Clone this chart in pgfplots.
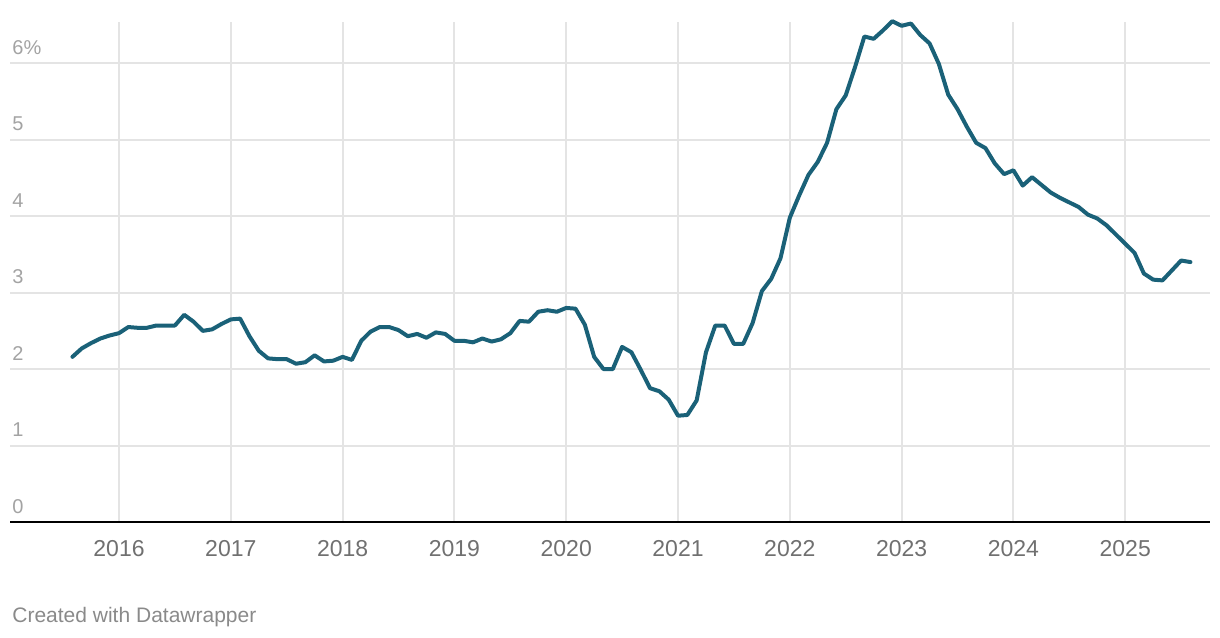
\documentclass[border=0pt]{standalone}
\usepackage{fontspec}
\setmainfont{Liberation Sans}
\usepackage{pgfplots}
\pgfplotsset{compat=1.18}
\definecolor{linec}{HTML}{1A6178}
\definecolor{gridc}{HTML}{E4E4E4}
\definecolor{ylab}{HTML}{A3A3A3}
\definecolor{xlab}{HTML}{707070}
\definecolor{cred}{HTML}{8A8A8A}
\begin{document}
\begin{tikzpicture}
\begin{axis}[
  scale only axis, width=600bp, height=250bp,
  xmin=-11.70, xmax=117.10, ymin=0, ymax=6.54,
  clip=false,
  axis line style={draw=none},
  major tick length=0pt,
  xtick={0,12,24,36,48,60,72,84,96,108},
  xticklabels={2016,2017,2018,2019,2020,2021,2022,2023,2024,2025},
  ytick={0,1,2,3,4,5,6},
  yticklabels={0,1,2,3,4,5,6\%},
  xmajorgrids, ymajorgrids,
  major grid style={gridc, line width=1bp},
  xticklabel style={font=\fontsize{11.5bp}{13bp}\selectfont, text=xlab, anchor=base, inner sep=0pt, yshift=-17bp},
  yticklabel style={font=\fontsize{10bp}{12bp}\selectfont, text=ylab, anchor=base west, inner sep=0pt, xshift=1bp, yshift=4.5bp},
]
\draw[black, line width=1bp] (rel axis cs:0,0) -- (rel axis cs:1,0);
\addplot[linec, line width=2bp, line join=round, line cap=round] coordinates {
(-5,2.16) (-4,2.27) (-3,2.34) (-2,2.40) (-1,2.44)
(0,2.47) (1,2.55) (2,2.54) (3,2.54) (4,2.57) (5,2.57) (6,2.57) (7,2.71) (8,2.62) (9,2.50) (10,2.52) (11,2.59)
(12,2.65) (13,2.66) (14,2.43) (15,2.24) (16,2.14) (17,2.13) (18,2.13) (19,2.07) (20,2.09) (21,2.18) (22,2.10) (23,2.11)
(24,2.16) (25,2.12) (26,2.37) (27,2.49) (28,2.55) (29,2.55) (30,2.51) (31,2.43) (32,2.46) (33,2.41) (34,2.48) (35,2.46)
(36,2.37) (37,2.37) (38,2.35) (39,2.40) (40,2.36) (41,2.39) (42,2.47) (43,2.63) (44,2.62) (45,2.75) (46,2.77) (47,2.75)
(48,2.80) (49,2.79) (50,2.58) (51,2.16) (52,2.00) (53,2.00) (54,2.29) (55,2.22) (56,1.99) (57,1.75) (58,1.71) (59,1.60)
(60,1.39) (61,1.40) (62,1.59) (63,2.22) (64,2.57) (65,2.57) (66,2.33) (67,2.33) (68,2.60) (69,3.02) (70,3.18) (71,3.45)
(72,3.98) (73,4.27) (74,4.54) (75,4.71) (76,4.96) (77,5.40) (78,5.58) (79,5.95) (80,6.35) (81,6.32) (82,6.43) (83,6.55)
(84,6.49) (85,6.52) (86,6.37) (87,6.26) (88,5.99) (89,5.59) (90,5.40) (91,5.17) (92,4.96) (93,4.89) (94,4.69) (95,4.55)
(96,4.60) (97,4.40) (98,4.51) (99,4.41) (100,4.31) (101,4.24) (102,4.18) (103,4.12) (104,4.02) (105,3.97) (106,3.88) (107,3.76)
(108,3.64) (109,3.52) (110,3.25) (111,3.17) (112,3.16) (113,3.29) (114,3.42) (115,3.40)
};
\end{axis}
\node[anchor=base west, inner sep=0pt, text=cred, font=\fontsize{10.5bp}{12bp}\selectfont] at (1bp,-50bp) {Created with Datawrapper};
\path[use as bounding box] (-5bp,-58bp) rectangle (605bp,261bp);
\end{tikzpicture}
\end{document}
